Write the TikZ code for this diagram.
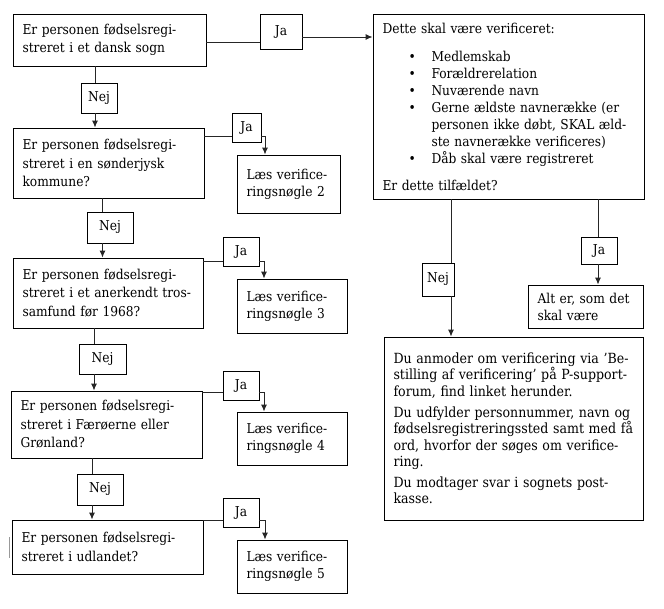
\documentclass[tikz,border=0pt]{standalone}
\usepackage{fontspec}
\setmainfont{DejaVu Serif Condensed}
\usetikzlibrary{arrows.meta}

\newcommand{\bul}{\hspace*{26pt}\makebox[23pt][l]{\textbullet}}
\newcommand{\bulgap}{\hspace*{49pt}}

\begin{document}
\begin{tikzpicture}[x=1pt, y=-1pt, >={Latex[length=7pt,width=6pt]},
  box/.style={draw, line width=0.9pt, align=left, inner xsep=9.5pt, inner ysep=0pt, font=\fontsize{13.6}{17}\selectfont},
  qbox/.style={box, font=\fontsize{13.6}{18.5}\selectfont},
  tag/.style={draw, line width=0.9pt, inner sep=0pt, font=\fontsize{13.6}{17}\selectfont},
  link/.style={draw=black!85, line width=0.9pt}]
\useasboundingbox (0,0) rectangle (664,608);

\node[qbox, text width=174pt, minimum height=52pt] (q1) at (109.5,40) {Er personen fødselsregi-\\streret i et dansk sogn};
\node[qbox, text width=172pt, minimum height=70pt] (q2) at (108.5,163) {Er personen fødselsregi-\\streret i en sønderjysk\\kommune?};
\node[qbox, text width=171pt, minimum height=70pt] (q3) at (108,293) {Er personen fødselsregi-\\streret i et anerkendt tros-\\samfund før 1968?};
\node[qbox, text width=172pt, minimum height=67pt] (q4) at (106.5,424.5) {Er personen fødselsregi-\\streret i Færøerne eller\\Grønland?};
\node[qbox, text width=172pt, minimum height=54pt] (q5) at (107.5,547) {Er personen fødselsregi-\\streret i udlandet?};

\node[box, text width=84pt, minimum height=58pt] (l2) at (288.5,184) {Læs verifice-\\ringsnøgle 2};
\node[box, text width=91pt, minimum height=54pt] (l3) at (292,306) {Læs verifice-\\ringsnøgle 3};
\node[box, text width=91pt, minimum height=53pt] (l4) at (292,438.5) {Læs verifice-\\ringsnøgle 4};
\node[box, text width=91pt, minimum height=53pt] (l5) at (292,566.5) {Læs verifice-\\ringsnøgle 5};

\node[box, text width=252pt, minimum height=185pt] (check) at (508.5,106.5) {Dette skal være verificeret:\\[11pt]
\bul Medlemskab\\
\bul Forældrerelation\\
\bul Nuværende navn\\
\bul Gerne ældste navnerække (er\\
\bulgap personen ikke døbt, SKAL æld-\\
\bulgap ste navnerække verificeres)\\
\bul Dåb skal være registreret\\[10pt]
Er dette tilfældet?};
\node[box, text width=96pt, minimum height=43pt] (ok) at (585.5,306.5) {Alt er, som det\\skal være};
\node[box, text width=240pt, minimum height=183pt, font=\fontsize{14}{16.3}\selectfont] (order) at (513.5,428.5) {Du anmoder om verificering via ’Be-\\
stilling af verificering’ på P-support-\\
forum, find linket herunder.\\[5pt]
Du udfylder personnummer, navn og\\
fødselsregistreringssted samt med få\\
ord, hvorfor der søges om verifice-\\
ring.\\[5pt]
Du modtager svar i sognets post-\\
kasse.\par\vspace*{12pt}};

\node[tag, minimum width=42pt, minimum height=35pt] (ja1) at (281,31.5) {Ja};
\node[tag, minimum width=36pt, minimum height=30pt] (nej1) at (99,98) {Nej};
\node[tag, minimum width=29pt, minimum height=29pt] (ja2) at (246.5,127.5) {Ja};
\node[tag, minimum width=46pt, minimum height=31pt] (nej2) at (110,227.5) {Nej};
\node[tag, minimum width=36pt, minimum height=29pt] (ja3) at (241,251.5) {Ja};
\node[tag, minimum width=47pt, minimum height=30pt] (nej3) at (102.5,359) {Nej};
\node[tag, minimum width=36pt, minimum height=29pt] (ja4) at (241,385.5) {Ja};
\node[tag, minimum width=46pt, minimum height=31pt] (nej4) at (100,489.5) {Nej};
\node[tag, minimum width=36pt, minimum height=29pt] (ja5) at (241,512.5) {Ja};
\node[tag, minimum width=32pt, minimum height=33pt] (nej5) at (438,279.5) {Nej};
\node[tag, minimum width=36pt, minimum height=27pt] (ja6) at (599,250.5) {Ja};

\draw[link] ([yshift=-10.5pt]ja1.west) -- ([yshift=-10.5pt]ja1.west -| q1.east);
\draw[link,->] ([yshift=-5.5pt]ja1.east) -- ([yshift=-5.5pt]ja1.east -| check.west);

\draw[link] ([xshift=-4pt]nej1.north) -- ([xshift=-4pt]nej1.north |- q1.south);
\draw[link,->] ([xshift=-4pt]nej1.south) -- ([xshift=-4pt]nej1.south |- q2.north);
\draw[link] ([xshift=-7.5pt]nej2.north) -- ([xshift=-7.5pt]nej2.north |- q2.south);
\draw[link,->] ([xshift=-7.5pt]nej2.south) -- ([xshift=-7.5pt]nej2.south |- q3.north);
\draw[link] ([xshift=-8.5pt]nej3.north) -- ([xshift=-8.5pt]nej3.north |- q3.south);
\draw[link,->] ([xshift=-8.5pt]nej3.south) -- ([xshift=-8.5pt]nej3.south |- q4.north);
\draw[link] ([xshift=-8pt]nej4.north) -- ([xshift=-8pt]nej4.north |- q4.south);
\draw[link,->] ([xshift=-8pt]nej4.south) -- ([xshift=-8pt]nej4.south |- q5.north);

\draw[link] ([yshift=-8.5pt]ja2.west) -- ([yshift=-8.5pt]ja2.west -| q2.east);
\draw[link,->] ([yshift=-8.5pt]ja2.east) -| ([xshift=-23.5pt]l2.north);
\draw[link] ([yshift=-9.5pt]ja3.west) -- ([yshift=-9.5pt]ja3.west -| q3.east);
\draw[link,->] ([yshift=-9.5pt]ja3.east) -| ([xshift=-28pt]l3.north);
\draw[link] ([yshift=-6.5pt]ja4.west) -- ([yshift=-6.5pt]ja4.west -| q4.east);
\draw[link,->] ([yshift=-6.5pt]ja4.east) -| ([xshift=-28pt]l4.north);
\draw[link] ([yshift=-7.5pt]ja5.west) -- ([yshift=-7.5pt]ja5.west -| q5.east);
\draw[link,->] ([yshift=-7.5pt]ja5.east) -| ([xshift=-27pt]l5.north);

\draw[link] ([xshift=13pt]nej5.north) -- ([xshift=13pt]nej5.north |- check.south);
\draw[link,->] ([xshift=13pt]nej5.south) -- ([xshift=13pt]nej5.south |- order.north);
\draw[link] ([xshift=-1pt]ja6.north) -- ([xshift=-1pt]ja6.north |- check.south);
\draw[link,->] ([xshift=-1pt]ja6.south) -- ([xshift=-1pt]ja6.south |- ok.north);

\draw[black!40] (9,537) -- (9,558);
\end{tikzpicture}
\end{document}
